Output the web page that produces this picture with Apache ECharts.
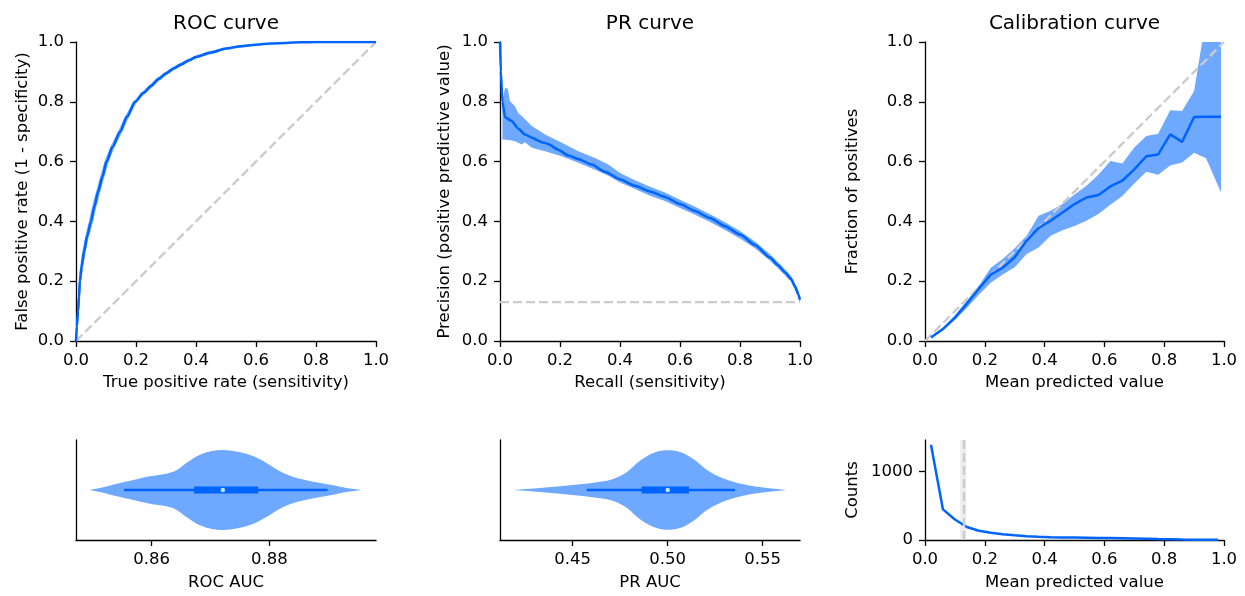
<!DOCTYPE html>
<html>
<head>
<meta charset="utf-8">
<script src="https://cdn.jsdelivr.net/npm/echarts@6/dist/echarts.min.js"></script>
<style>html,body{margin:0;padding:0;background:#fff}#c{width:1245px;height:596px}</style>
</head>
<body>
<div id="c"></div>
<script>
// ---------------- DATA ----------------
// ROC curve (mean) and its confidence band
const rocX   = [0, 0.003, 0.007, 0.010, 0.013, 0.019, 0.027, 0.037, 0.050, 0.061, 0.074, 0.088, 0.102, 0.122, 0.147, 0.170, 0.197, 0.225, 0.250, 0.275, 0.300, 0.325, 0.350, 0.375, 0.400, 0.450, 0.500, 0.550, 0.600, 0.650, 0.700, 0.750, 0.800, 0.900, 1.000];
const rocY   = [0, 0.05, 0.10, 0.15, 0.20, 0.25, 0.30, 0.35, 0.40, 0.45, 0.50, 0.55, 0.60, 0.65, 0.70, 0.75, 0.80, 0.83, 0.853, 0.876, 0.895, 0.911, 0.925, 0.938, 0.95, 0.965, 0.978, 0.986, 0.991, 0.995, 0.997, 0.999, 1.0, 1.0, 1.0];
const rocHiX = [0, 0.001, 0.004, 0.006, 0.009, 0.014, 0.021, 0.031, 0.043, 0.054, 0.067, 0.081, 0.095, 0.115, 0.140, 0.163, 0.191, 0.220, 0.246, 0.272, 0.298, 0.323, 0.348, 0.374, 0.399, 0.449, 0.5, 0.55, 0.6, 0.65, 0.7, 0.75, 0.8, 0.9, 1.0];
const rocHiY = [0, 0.05, 0.10, 0.15, 0.20, 0.25, 0.30, 0.35, 0.40, 0.45, 0.50, 0.55, 0.60, 0.65, 0.70, 0.75, 0.80, 0.832, 0.857, 0.881, 0.900, 0.916, 0.930, 0.943, 0.955, 0.970, 0.982, 0.990, 0.994, 0.997, 0.999, 1.0, 1.0, 1.0, 1.0];
const rocLoX = [0, 0.005, 0.010, 0.014, 0.017, 0.024, 0.033, 0.043, 0.057, 0.068, 0.081, 0.095, 0.109, 0.129, 0.154, 0.177, 0.203, 0.230, 0.254, 0.278, 0.302, 0.327, 0.352, 0.376, 0.401, 0.451, 0.5, 0.55, 0.6, 0.65, 0.7, 0.75, 0.8, 0.9, 1.0];
const rocLoY = [0, 0.05, 0.10, 0.15, 0.20, 0.25, 0.30, 0.35, 0.40, 0.45, 0.50, 0.55, 0.60, 0.65, 0.70, 0.75, 0.80, 0.828, 0.849, 0.871, 0.890, 0.906, 0.920, 0.933, 0.945, 0.960, 0.974, 0.982, 0.988, 0.993, 0.995, 0.998, 0.999, 1.0, 1.0];

// PR curve
const prX = [0, 0.003, 0.008, 0.017, 0.039, 0.061, 0.083, 0.106, 0.139, 0.158, 0.194, 0.228, 0.261, 0.306, 0.35, 0.4, 0.45, 0.5, 0.55, 0.6, 0.65, 0.7, 0.75, 0.8, 0.85, 0.9, 0.925, 0.95, 0.97, 0.985, 0.995, 1.0];
const prY = [1.0, 0.9, 0.8, 0.748, 0.736, 0.71, 0.691, 0.68, 0.665, 0.66, 0.64, 0.62, 0.609, 0.59, 0.566, 0.541, 0.519, 0.50, 0.482, 0.458, 0.435, 0.411, 0.384, 0.356, 0.321, 0.279, 0.255, 0.23, 0.207, 0.18, 0.155, 0.138];
const prHiX = [0.008, 0.017, 0.026, 0.033, 0.05, 0.061, 0.072, 0.09, 0.106, 0.15, 0.206, 0.261, 0.317, 0.361, 0.4, 0.45, 0.5, 0.55, 0.6, 0.65, 0.7, 0.75, 0.8, 0.85, 0.9, 0.94, 0.97, 0.99, 1.0];
const prHiY = [0.80, 0.848, 0.843, 0.803, 0.785, 0.762, 0.753, 0.735, 0.719, 0.691, 0.663, 0.635, 0.612, 0.59, 0.562, 0.538, 0.516, 0.497, 0.472, 0.449, 0.424, 0.397, 0.368, 0.333, 0.29, 0.25, 0.218, 0.18, 0.148];
const prLoX = [0.008, 0.03, 0.05, 0.061, 0.072, 0.083, 0.106, 0.15, 0.206, 0.261, 0.317, 0.361, 0.4, 0.45, 0.5, 0.55, 0.6, 0.65, 0.7, 0.75, 0.8, 0.85, 0.9, 0.94, 0.97, 0.99, 1.0];
const prLoY = [0.674, 0.672, 0.668, 0.663, 0.657, 0.665, 0.646, 0.635, 0.618, 0.596, 0.573, 0.553, 0.53, 0.508, 0.486, 0.468, 0.445, 0.422, 0.398, 0.371, 0.343, 0.31, 0.268, 0.23, 0.2, 0.155, 0.128];
const prevalence = 0.13;

// Calibration curve
const calX  = [0.02, 0.06, 0.10, 0.14, 0.18, 0.22, 0.26, 0.30, 0.34, 0.38, 0.42, 0.46, 0.50, 0.54, 0.58, 0.62, 0.66, 0.70, 0.74, 0.78, 0.82, 0.86, 0.90, 0.94, 0.99];
const calY  = [0.012, 0.04, 0.078, 0.125, 0.175, 0.222, 0.245, 0.28, 0.336, 0.378, 0.402, 0.43, 0.458, 0.48, 0.488, 0.517, 0.536, 0.574, 0.618, 0.624, 0.691, 0.666, 0.749, 0.75, 0.75];
const calHi = [0.015, 0.045, 0.085, 0.135, 0.185, 0.245, 0.274, 0.31, 0.352, 0.419, 0.436, 0.458, 0.49, 0.519, 0.556, 0.602, 0.594, 0.647, 0.686, 0.693, 0.772, 0.769, 0.836, 1.08, 1.0];
const calLo = [0.009, 0.035, 0.07, 0.11, 0.155, 0.195, 0.222, 0.247, 0.291, 0.313, 0.352, 0.37, 0.385, 0.402, 0.425, 0.456, 0.485, 0.527, 0.566, 0.556, 0.587, 0.597, 0.63, 0.611, 0.497];

// Bootstrap AUC violins (value, half-width)
const rocViolinX = [0.8494, 0.8512, 0.8541, 0.8569, 0.8597, 0.8625, 0.8642, 0.8659, 0.8682, 0.8705, 0.8727, 0.8750, 0.8773, 0.8795, 0.8818, 0.8841, 0.8863, 0.8886, 0.8909, 0.8931, 0.8957];
const rocViolinW = [0, 0.02, 0.063, 0.10, 0.137, 0.163, 0.197, 0.27, 0.353, 0.393, 0.397, 0.377, 0.337, 0.27, 0.187, 0.13, 0.097, 0.07, 0.047, 0.02, 0];
const rocWhisker = [0.8553, 0.8899];
const rocBox     = [0.8672, 0.8781];
const rocMedian  = 0.8721;
const rocTicks   = [0.86, 0.88];

const prViolinX = [0.4191, 0.4311, 0.4433, 0.4539, 0.4644, 0.4714, 0.4784, 0.4854, 0.4925, 0.4995, 0.5065, 0.5135, 0.5205, 0.5275, 0.5346, 0.5416, 0.5521, 0.5626];
const prViolinW = [0, 0.017, 0.037, 0.057, 0.083, 0.11, 0.177, 0.293, 0.37, 0.397, 0.38, 0.31, 0.203, 0.13, 0.083, 0.05, 0.02, 0];
const prWhisker = [0.4574, 0.5354];
const prBox     = [0.4863, 0.5112];
const prMedian  = 0.500;
const prTicks   = [0.45, 0.50, 0.55];

// Counts per predicted-value bin
const cntX = [0.02, 0.06, 0.10, 0.14, 0.18, 0.22, 0.26, 0.30, 0.34, 0.38, 0.42, 0.46, 0.50, 0.54, 0.58, 0.62, 0.66, 0.70, 0.74, 0.78, 0.82, 0.86, 0.90, 0.94, 0.98];
const cntY = [1394, 448, 300, 190, 135, 105, 85, 68, 56, 46, 40, 37, 35, 33, 31, 29, 25, 21, 17, 13, 10, 7, 5, 3, 2];
const cntTicks = [0, 1000];
const prevalenceBand = [0.118, 0.138];

const unitTicks = [0, 0.2, 0.4, 0.6, 0.8, 1.0];

// ---------------- STYLE ----------------
const FONT = 'DejaVu Sans';
const BLUE = '#0064ff';
const FILL = '#6ea8ff';
const GREY = '#cccccc';
const FS = 16.5;

const zip = (a, b) => a.map((v, i) => [v, b[i]]);

const grids = [
  {left: 76,  top: 42,  width: 300, height: 299},
  {left: 500, top: 42,  width: 300, height: 299},
  {left: 925, top: 42,  width: 299, height: 299},
  {left: 76,  top: 440, width: 300, height: 100},
  {left: 500, top: 440, width: 300, height: 100},
  {left: 925, top: 440, width: 299, height: 100}
];

function mkAxis(o) {
  return {
    type: 'value',
    gridIndex: o.grid,
    min: o.min, max: o.max,
    name: o.name || '',
    nameLocation: 'middle',
    nameGap: o.nameGap || 33,
    nameTextStyle: {color: '#000', fontSize: FS, fontFamily: FONT},
    axisLine: {show: true, onZero: false, lineStyle: {color: '#000', width: 1.3}},
    axisTick: {show: o.ticks !== false, length: 6, lineStyle: {color: '#000', width: 1.3},
               customValues: o.custom},
    axisLabel: {show: o.labels !== false, color: '#000', fontSize: FS, fontFamily: FONT,
                margin: o.margin || 11, formatter: o.fmt, customValues: o.custom,
                showMinLabel: true, showMaxLabel: true},
    splitLine: {show: false}
  };
}
const f1 = v => v.toFixed(1);
const f2 = v => v.toFixed(2);

const xAxes = [
  mkAxis({grid: 0, min: 0, max: 1, custom: unitTicks, fmt: f1, name: 'True positive rate (sensitivity)'}),
  mkAxis({grid: 1, min: 0, max: 1, custom: unitTicks, fmt: f1, name: 'Recall (sensitivity)'}),
  mkAxis({grid: 2, min: 0, max: 1, custom: unitTicks, fmt: f1, name: 'Mean predicted value'}),
  mkAxis({grid: 3, min: 0.847139, max: 0.89813, custom: rocTicks, fmt: f2, name: 'ROC AUC', nameGap: 34}),
  mkAxis({grid: 4, min: 0.41174, max: 0.56963, custom: prTicks, fmt: f2, name: 'PR AUC', nameGap: 34}),
  mkAxis({grid: 5, min: 0, max: 1, custom: unitTicks, fmt: f1, name: 'Mean predicted value', nameGap: 34})
];
const yAxes = [
  mkAxis({grid: 0, min: 0, max: 1, custom: unitTicks, fmt: f1, margin: 12, name: 'False positive rate (1 - specificity)', nameGap: 45}),
  mkAxis({grid: 1, min: 0, max: 1, custom: unitTicks, fmt: f1, margin: 12, name: 'Precision (positive predictive value)', nameGap: 47}),
  mkAxis({grid: 2, min: 0, max: 1, custom: unitTicks, fmt: f1, margin: 12, name: 'Fraction of positives', nameGap: 64}),
  mkAxis({grid: 3, min: -0.5, max: 0.5, ticks: false, labels: false}),
  mkAxis({grid: 4, min: -0.5, max: 0.5, ticks: false, labels: false}),
  mkAxis({grid: 5, min: 0, max: 1465, custom: cntTicks, fmt: v => String(v), margin: 12, name: 'Counts', nameGap: 64})
];

function line(g, data, color, width, dash, z, smooth) {
  return {
    type: 'line', xAxisIndex: g, yAxisIndex: g, data: data,
    showSymbol: false, symbol: 'none', silent: true, animation: false, clip: true,
    smooth: smooth || false, smoothMonotone: smooth ? 'x' : undefined,
    lineStyle: {color: color, width: width, type: dash || 'solid', cap: 'butt'},
    z: z || 3
  };
}
function band(g, hiX, hiY, loX, loY, color, smooth) {
  return {
    type: 'custom', xAxisIndex: g, yAxisIndex: g, clip: true, silent: true, animation: false, z: 2,
    data: [[hiX[0], hiY[0]]],
    renderItem: function (params, api) {
      const pts = [];
      for (let i = 0; i < hiX.length; i++) pts.push(api.coord([hiX[i], hiY[i]]));
      for (let i = loX.length - 1; i >= 0; i--) pts.push(api.coord([loX[i], loY[i]]));
      return {type: 'polygon', shape: {points: pts, smooth: smooth || 0}, style: {fill: color}};
    }
  };
}
function violin(g, vx, vw) {
  return band(g, vx, vw, vx, vw.map(w => -w), FILL, 0.35);
}
function boxParts(g, whisker, box, median) {
  return [
    line(g, [[whisker[0], 0], [whisker[1], 0]], BLUE, 2.6, 'solid', 4),
    line(g, [[box[0], 0], [box[1], 0]], BLUE, 7, 'solid', 5),
    {type: 'scatter', xAxisIndex: g, yAxisIndex: g, data: [[median, 0]], symbol: 'circle', symbolSize: 4.5,
     itemStyle: {color: '#fff'}, silent: true, animation: false, z: 6}
  ];
}

const dash = [9, 4];
const series = [
  // ROC
  line(0, [[0, 0], [1, 1]], GREY, 2.4, dash, 1),
  band(0, rocHiX, rocHiY, rocLoX, rocLoY, FILL),
  line(0, zip(rocX, rocY), BLUE, 2.5, 'solid', 3, 0.3),
  // PR
  line(1, [[0, prevalence], [1, prevalence]], GREY, 2.4, dash, 1),
  band(1, prHiX, prHiY, prLoX, prLoY, FILL),
  line(1, zip(prX, prY), BLUE, 2.5, 'solid', 3, 0.2),
  // Calibration
  band(2, calX, calHi, calX, calLo, FILL),
  line(2, [[0, 0], [1, 1]], GREY, 2.4, dash, 3),
  line(2, zip(calX, calY), BLUE, 2.5, 'solid', 4),
  // Violins
  violin(3, rocViolinX, rocViolinW),
  ...boxParts(3, rocWhisker, rocBox, rocMedian),
  violin(4, prViolinX, prViolinW),
  ...boxParts(4, prWhisker, prBox, prMedian),
  // Counts
  Object.assign(line(5, zip(cntX, cntY), BLUE, 2.5), {
    markArea: {silent: true, itemStyle: {color: 'rgba(215,215,215,0.45)'},
               data: [[{xAxis: prevalenceBand[0]}, {xAxis: prevalenceBand[1]}]]},
    markLine: {silent: true, symbol: 'none', label: {show: false},
               lineStyle: {color: GREY, width: 2.4, type: dash},
               data: [{xAxis: prevalence - 0.002}]}
  })
];

const titles = [
  {text: 'ROC curve', x: 226},
  {text: 'PR curve', x: 650},
  {text: 'Calibration curve', x: 1074.5}
];

const chart = echarts.init(document.getElementById('c'), null, {renderer: 'canvas'});
chart.setOption({
  animation: false,
  backgroundColor: '#fff',
  grid: grids.map(g => Object.assign({containLabel: false}, g)),
  xAxis: xAxes,
  yAxis: yAxes,
  series: series,
  graphic: titles.map(t => ({
    type: 'text', x: t.x, y: 24,
    style: {text: t.text, fill: '#000', font: '20px "DejaVu Sans"', textAlign: 'center', textVerticalAlign: 'middle'}
  }))
});
</script>
</body>
</html>
